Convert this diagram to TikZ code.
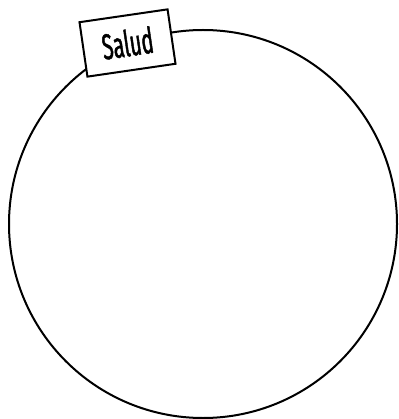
\documentclass[tikz,border=0pt]{standalone}
\usepackage{fontspec}
\newfontfamily\tagfont[FakeStretch=0.56,FakeBold=1.2]{Fira Sans}
\usetikzlibrary{positioning}

\begin{document}
\begin{tikzpicture}[x=1pt,y=-1pt]
        \useasboundingbox (0,0) rectangle (398,419);
        %Styles
        \tikzset{
          ring/.style={draw=black, line width=2pt},
          tagbox/.style={draw=black, fill=white, line width=2pt,
            minimum width=89pt, minimum height=55pt, inner sep=0pt,
            font=\tagfont\fontsize{36}{36}\selectfont}
        }
        %Circle
        \coordinate (c) at (203,224);
        \draw[ring] (c) circle (194pt);
        %Label
        \node[tagbox, rotate=8.3] (salud) at (127.5,43) {Salud};
      \end{tikzpicture}
\end{document}
